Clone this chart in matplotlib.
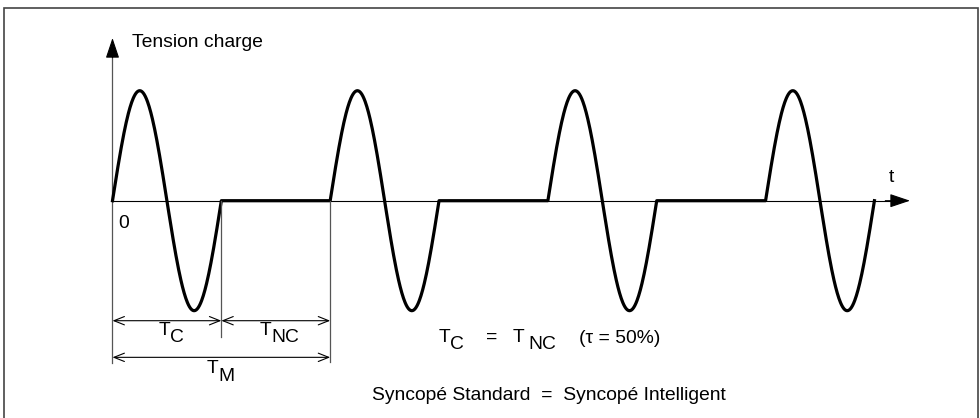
import matplotlib
matplotlib.use("Agg")
import matplotlib.pyplot as plt
import numpy as np
from matplotlib.patches import Rectangle

plt.rcParams['font.family'] = ['Liberation Sans', 'DejaVu Sans']

# --- diagram data (time unit = one conduction period T_C, amplitude = 1) ---
cycle_starts = [0.0, 2.0, 4.0, 6.0]   # start of each conduction burst
t_conduction = 1.0                     # T_C
t_non_conduction = 1.0                 # T_NC
amplitude = 1.0
samples_per_cycle = 200

y_label = "Tension charge"
x_label = "t"
origin_label = "0"
footer = "Syncopé Standard  =  Syncopé Intelligent"

FS = 13.9

# build the load voltage trace: one full sine per burst, flat in between
t_all, v_all = [], []
for i, s in enumerate(cycle_starts):
    t = np.linspace(s, s + t_conduction, samples_per_cycle)
    v = amplitude * np.sin(2 * np.pi * (t - s) / t_conduction)
    t_all.append(t)
    v_all.append(v)
    if i < len(cycle_starts) - 1:
        t_all.append([s + t_conduction, cycle_starts[i + 1]])
        v_all.append([0.0, 0.0])
t_all = np.concatenate(t_all)
v_all = np.concatenate(v_all)

fig = plt.figure(figsize=(9.8, 4.18), dpi=100)
ax = fig.add_axes([0, 0, 1, 1])
ax.axis("off")
ax.set_xlim(-1.0335, 7.970)
ax.set_ylim(-1.9755, 1.8245)

# frame
fig.patches.append(Rectangle((4.3 / 980, -0.05), 974.0 / 980, 1 - 8.3 / 418 + 0.05,
                             transform=fig.transFigure, fill=False,
                             edgecolor="#444444", lw=1.2))

# axes with arrowheads
head = dict(arrowstyle="-|>,head_length=1.25,head_width=0.42",
            color="black", lw=0.8, mutation_scale=10, shrinkA=0, shrinkB=0)
ax.plot([0, 0], [-1.475, 1.40], color="#555555", lw=0.9)
ax.annotate("", xy=(0, 1.479), xytext=(0, 1.30), arrowprops=head)
ax.plot([0, 7.2], [0, 0], color="black", lw=0.8)
ax.annotate("", xy=(7.327, 0), xytext=(7.1, 0), arrowprops=head)

# waveform
ax.plot(t_all, v_all, color="black", lw=2.3, solid_joinstyle="round")

# period marker lines
t1 = t_conduction
t2 = t_conduction + t_non_conduction
ax.plot([t1, t1], [0, -1.239], color="#555555", lw=0.9)
ax.plot([t2, t2], [0, -1.466], color="#555555", lw=0.9)

dim = dict(arrowstyle="<->,head_length=0.75,head_width=0.3", color="black",
           lw=0.8, mutation_scale=10, shrinkA=0, shrinkB=0)
ax.annotate("", xy=(0, -1.091), xytext=(t1, -1.091), arrowprops=dim)
ax.annotate("", xy=(t1, -1.091), xytext=(t2, -1.091), arrowprops=dim)
ax.annotate("", xy=(0, -1.424), xytext=(t2, -1.424), arrowprops=dim)


def sub_label(x, y, main, sub, gap=0.0, drop=-5.2):
    ax.text(x, y, main, ha="right", va="center", fontsize=FS)
    ax.annotate(sub, xy=(x, y), xytext=(gap, drop), textcoords="offset points",
                ha="left", va="center", fontsize=FS)


sub_label(0.528, -1.178, "T", "C")
sub_label(1.463, -1.178, "T", "NC")
sub_label(0.974, -1.53, "T", "M")

# relation text
sub_label(3.101, -1.244, "T", "C")
ax.text(3.486, -1.244, "=", ha="center", va="center", fontsize=FS)
sub_label(3.781, -1.244, "T", "NC", gap=3.0)
ax.text(4.286, -1.257, "(τ = 50%)", ha="left", va="center", fontsize=FS)

ax.text(0.051, -0.203, origin_label, ha="left", va="center", fontsize=FS)
ax.text(0.176, 1.436, y_label, ha="left", va="center", fontsize=FS)
ax.text(7.16, 0.207, x_label, ha="center", va="center", fontsize=FS)
ax.text(4.006, -1.77, footer, ha="center", va="center", fontsize=FS)

fig.savefig("out.png", dpi=100)
